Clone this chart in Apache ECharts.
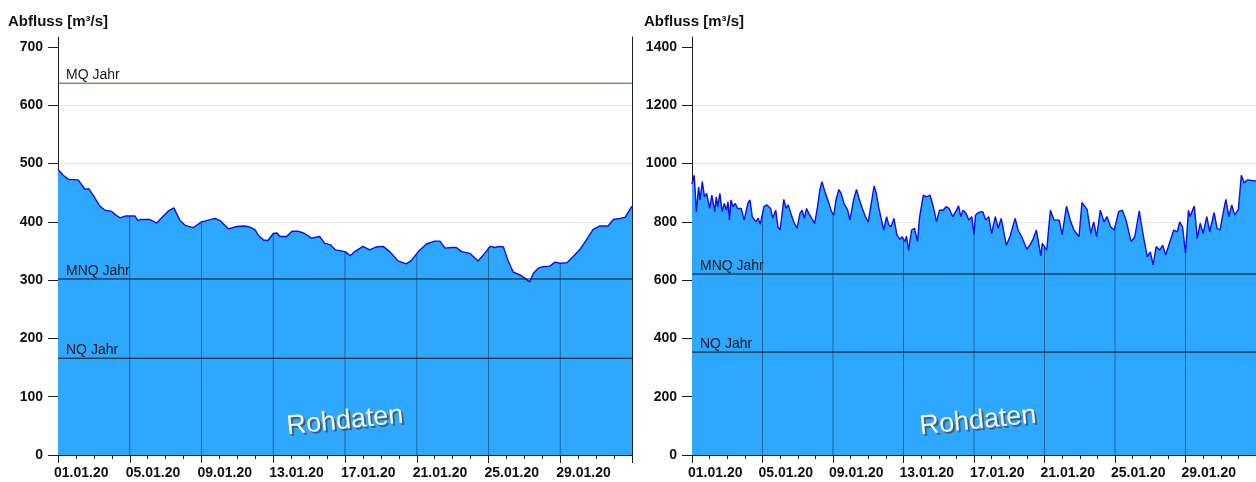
<!DOCTYPE html>
<html>
<head>
<meta charset="utf-8">
<script src="https://cdn.jsdelivr.net/npm/echarts@6/dist/echarts.min.js"></script>
<style>
  html, body { margin: 0; padding: 0; background: #ffffff; }
  #chart { width: 1256px; height: 482px; }
</style>
</head>
<body>
<div id="chart"></div>
<script>
// Discharge, January 2020 — two gauges, hours counted from 01.01.2020 00:00
const startDate = Date.UTC(2020, 0, 1);
const periodHours = 768;   // 32 days shown on each time axis
const dayHours = 24;
const labelStepHours = 96; // a labelled tick every 4 days

const leftHours = [
  0, 7, 14, 27, 36, 41, 47, 56, 63, 72,
  76, 83, 90, 103, 107, 110, 123, 132, 141, 148,
  155, 163, 170, 181, 192, 201, 210, 217, 228, 239,
  250, 257, 264, 268, 275, 281, 288, 293, 297, 306,
  313, 321, 330, 339, 350, 357, 364, 371, 384, 391,
  397, 408, 417, 426, 435, 444, 455, 466, 473, 482,
  493, 504, 511, 518, 527, 533, 540, 551, 562, 569,
  578, 585, 590, 596, 602, 609, 618, 625, 631, 636,
  643, 649, 658, 665, 672, 681, 689, 698, 707, 716,
  725, 736, 743, 752, 759, 768
];
const leftFlow = [
  490, 480, 473, 472, 456, 457, 446, 427, 420, 418,
  413, 407, 410, 410, 402, 404, 404, 398, 410, 419,
  424, 403, 394, 390, 400, 403, 406, 402, 388, 392,
  393, 391, 386, 377, 369, 368, 380, 381, 375, 375,
  384, 384, 380, 372, 375, 363, 361, 352, 349, 342,
  349, 358, 352, 357, 358, 349, 333, 328, 334, 349,
  362, 367, 367, 355, 356, 356, 349, 346, 333, 343,
  358, 356, 358, 357, 334, 314, 309, 303, 297, 312,
  321, 323, 324, 331, 329, 330, 340, 352, 369, 387,
  393, 393, 404, 406, 408, 427
];

const rightHours = [
  0, 3, 6, 9, 11, 14, 17, 20, 24, 27,
  31, 33, 35, 38, 41, 44, 47, 49, 51, 53,
  56, 59, 62, 67, 71, 76, 79, 82, 87, 90,
  93, 98, 102, 107, 110, 114, 117, 120, 125, 128,
  131, 136, 139, 143, 147, 150, 153, 156, 159, 163,
  167, 171, 174, 177, 181, 185, 190, 193, 196, 200,
  203, 207, 212, 215, 220, 224, 228, 232, 236, 240,
  243, 248, 251, 254, 257, 261, 265, 268, 271, 275,
  279, 283, 286, 290, 292, 295, 299, 303, 307, 310,
  315, 319, 324, 328, 333, 337, 342, 346, 350, 355,
  359, 363, 366, 369, 373, 377, 381, 384, 386, 390,
  396, 400, 404, 408, 413, 417, 421, 428, 433, 440,
  444, 449, 456, 460, 464, 469, 475, 477, 483, 488,
  493, 500, 504, 510, 515, 520, 527, 531, 538, 543,
  547, 551, 556, 561, 565, 570, 575, 581, 586, 591,
  598, 603, 609, 614, 620, 624, 628, 632, 637, 641,
  645, 650, 656, 661, 664, 668, 672, 676, 678, 684,
  688, 692, 696, 701, 705, 711, 715, 719, 724, 727,
  731, 735, 739, 744, 748, 752, 756, 768
];
const rightFlow = [
  930, 960, 835, 920, 875, 938, 886, 898, 846, 892,
  835, 886, 852, 898, 835, 863, 840, 869, 806, 875,
  852, 863, 846, 846, 806, 863, 875, 818, 800, 812,
  792, 852, 858, 846, 812, 840, 783, 772, 877, 846,
  858, 818, 797, 778, 829, 840, 812, 846, 829, 812,
  795, 852, 909, 938, 903, 875, 835, 823, 875, 911,
  898, 863, 840, 806, 875, 911, 875, 846, 818, 800,
  846, 923, 898, 852, 818, 772, 818, 789, 783, 812,
  755, 740, 749, 732, 751, 703, 772, 778, 732, 818,
  892, 886, 892, 858, 800, 840, 840, 852, 846, 818,
  835, 855, 818, 840, 830, 806, 818, 756, 823, 832,
  835, 806, 818, 760, 818, 778, 812, 720, 749, 812,
  772, 749, 706, 720, 738, 772, 683, 726, 703, 840,
  806, 806, 755, 854, 806, 772, 749, 866, 843, 760,
  800, 749, 840, 800, 818, 783, 772, 835, 840, 806,
  732, 749, 838, 760, 680, 697, 652, 715, 703, 720,
  686, 726, 772, 766, 800, 783, 692, 840, 818, 854,
  743, 795, 760, 818, 766, 832, 778, 772, 840, 877,
  818, 858, 823, 843, 960, 933, 944, 940
];

// Long-term characteristic discharges drawn as reference lines
const leftRefNames = ['MQ Jahr', 'MNQ Jahr', 'NQ Jahr'];
const leftRefValues = [638, 302, 166];
const rightRefNames = ['MNQ Jahr', 'NQ Jahr'];
const rightRefValues = [621, 353];

const leftYTicks = [0, 100, 200, 300, 400, 500, 600, 700];
const rightYTicks = [0, 200, 400, 600, 800, 1000, 1200, 1400];

const yTitle = 'Abfluss [m\u00b3/s]';
const watermark = 'Rohdaten';

const FONT = '"Liberation Sans", Arial, Helvetica, sans-serif';
const AXIS_COLOR = '#1a1a1a';
const AREA_COLOR = '#2ea8ff';
const LINE_COLOR = '#0c0cf0';
const DAYLINE_COLOR = '#1d6598';

function pad2(n) { return (n < 10 ? '0' : '') + n; }
function formatHour(h) {
  const d = new Date(startDate + h * 3600 * 1000);
  return pad2(d.getUTCDate()) + '.' + pad2(d.getUTCMonth() + 1) + '.' + pad2(d.getUTCFullYear() % 100);
}

// value of the polyline at hour h (the line is drawn straight between samples)
function valueAt(hours, flow, h) {
  for (let i = 1; i < hours.length; i++) {
    if (hours[i] >= h) {
      const t = (h - hours[i - 1]) / (hours[i] - hours[i - 1]);
      return flow[i - 1] + t * (flow[i] - flow[i - 1]);
    }
  }
  return flow[flow.length - 1];
}

function refLineColor(name) {
  return name === 'MQ Jahr' ? '#157a15' : '#111111';
}

function flowSeries(xIdx, yIdx, hours, flow) {
  return {
    type: 'line',
    xAxisIndex: xIdx,
    yAxisIndex: yIdx,
    data: hours.map((h, i) => [h, flow[i]]),
    showSymbol: false,
    symbol: 'none',
    smooth: false,
    clip: true,
    z: 2,
    color: LINE_COLOR,
    lineStyle: { color: LINE_COLOR, width: 1.4 },
    areaStyle: { color: AREA_COLOR, opacity: 1 }
  };
}

// thin bars at every 4th day, reaching up to the discharge curve
function dayLineSeries(xIdx, yIdx, hours, flow) {
  const data = [];
  for (let h = labelStepHours; h < periodHours; h += labelStepHours) {
    data.push([h, valueAt(hours, flow, h)]);
  }
  return {
    type: 'bar',
    xAxisIndex: xIdx,
    yAxisIndex: yIdx,
    data: data,
    barWidth: 1,
    z: 2,
    silent: true,
    itemStyle: { color: DAYLINE_COLOR }
  };
}

function refSeries(xIdx, yIdx, name, value) {
  const col = refLineColor(name);
  return {
    type: 'line',
    name: name,
    xAxisIndex: xIdx,
    yAxisIndex: yIdx,
    data: [
      { value: [0, value], label: { show: true } },
      { value: [periodHours, value], label: { show: false } }
    ],
    z: 3,
    silent: true,
    showSymbol: true,
    showAllSymbol: true,
    symbol: 'circle',
    symbolSize: 0.01,
    itemStyle: { color: col },
    lineStyle: { color: col, width: 1, type: 'solid' },
    label: {
      position: [8, -15],
      formatter: name,
      color: '#1a1a1a',
      fontSize: 14,
      fontFamily: FONT,
      align: 'left',
      verticalAlign: 'top'
    }
  };
}

function timeAxis(gridIndex) {
  return {
    type: 'value',
    gridIndex: gridIndex,
    min: 0,
    max: periodHours,
    interval: labelStepHours,
    axisLine: { show: true, onZero: false, lineStyle: { color: AXIS_COLOR, width: 1 } },
    axisTick: { show: true, length: 8, lineStyle: { color: AXIS_COLOR } },
    minorTick: { show: true, splitNumber: labelStepHours / dayHours, length: 4, lineStyle: { color: AXIS_COLOR } },
    splitLine: { show: false },
    minorSplitLine: { show: false },
    axisLabel: {
      formatter: formatHour,
      align: 'left',
      margin: 11,
      padding: [0, 0, 0, -4],
      color: '#111111',
      fontWeight: 'bold',
      fontSize: 14,
      fontFamily: FONT,
      showMaxLabel: false
    }
  };
}

function flowAxis(gridIndex, max, interval, ticks) {
  return {
    type: 'value',
    gridIndex: gridIndex,
    min: 0,
    max: max,
    interval: interval,
    axisLine: { show: true, onZero: false, lineStyle: { color: AXIS_COLOR, width: 1 } },
    axisTick: { show: true, length: 10, lineStyle: { color: AXIS_COLOR }, customValues: ticks },
    axisLabel: {
      customValues: ticks,
      formatter: v => String(v),
      color: '#111111',
      fontWeight: 'bold',
      fontSize: 14,
      fontFamily: FONT,
      margin: 15
    },
    splitLine: { show: true, showMaxLine: false, lineStyle: { color: '#e8e8e8', width: 1 } }
  };
}

const titleStyle = { fontSize: 15, fontWeight: 'bold', color: '#111111', fontFamily: FONT };

// watermark: grey shadow copy below a white copy
function watermarkText(cx, dx, dy, fill) {
  return {
    type: 'text',
    x: cx + dx,
    y: 421 + dy,
    rotation: 0.1,
    z: 100,
    silent: true,
    style: {
      text: watermark,
      fill: fill,
      font: '27px ' + FONT,
      align: 'center',
      verticalAlign: 'middle',
      textAlign: 'center',
      textVerticalAlign: 'middle'
    }
  };
}

const chart = echarts.init(document.getElementById('chart'), null, { renderer: 'canvas' });

chart.setOption({
  animation: false,
  backgroundColor: '#ffffff',
  title: [
    { text: yTitle, left: 3, top: 9, textStyle: titleStyle },
    { text: yTitle, left: 639, top: 9, textStyle: titleStyle }
  ],
  grid: [
    { left: 58, top: 37, width: 574, height: 418, containLabel: false },
    { left: 692, top: 37, width: 573, height: 418, containLabel: false }
  ],
  xAxis: [timeAxis(0), timeAxis(1)],
  yAxis: [
    flowAxis(0, 717.2, 100, leftYTicks),
    {
      // right frame of the left panel
      type: 'value', gridIndex: 0, position: 'right', min: 0, max: 717.2,
      axisLine: { show: true, onZero: false, lineStyle: { color: AXIS_COLOR, width: 1 } },
      axisTick: { show: false }, axisLabel: { show: false }, splitLine: { show: false }
    },
    flowAxis(1, 1434.3, 200, rightYTicks)
  ],
  series: [
    flowSeries(0, 0, leftHours, leftFlow),
    flowSeries(1, 2, rightHours, rightFlow),
    dayLineSeries(0, 0, leftHours, leftFlow),
    dayLineSeries(1, 2, rightHours, rightFlow)
  ].concat(
    leftRefValues.map((v, i) => refSeries(0, 0, leftRefNames[i], v)),
    rightRefValues.map((v, i) => refSeries(1, 2, rightRefNames[i], v))
  ),
  graphic: [345, 978].reduce((acc, cx) => acc.concat([
    watermarkText(cx, 2, 2, 'rgba(70,70,70,0.75)'),
    watermarkText(cx, 0, 0, '#f6f6f6')
  ]), [])
});
</script>
</body>
</html>
